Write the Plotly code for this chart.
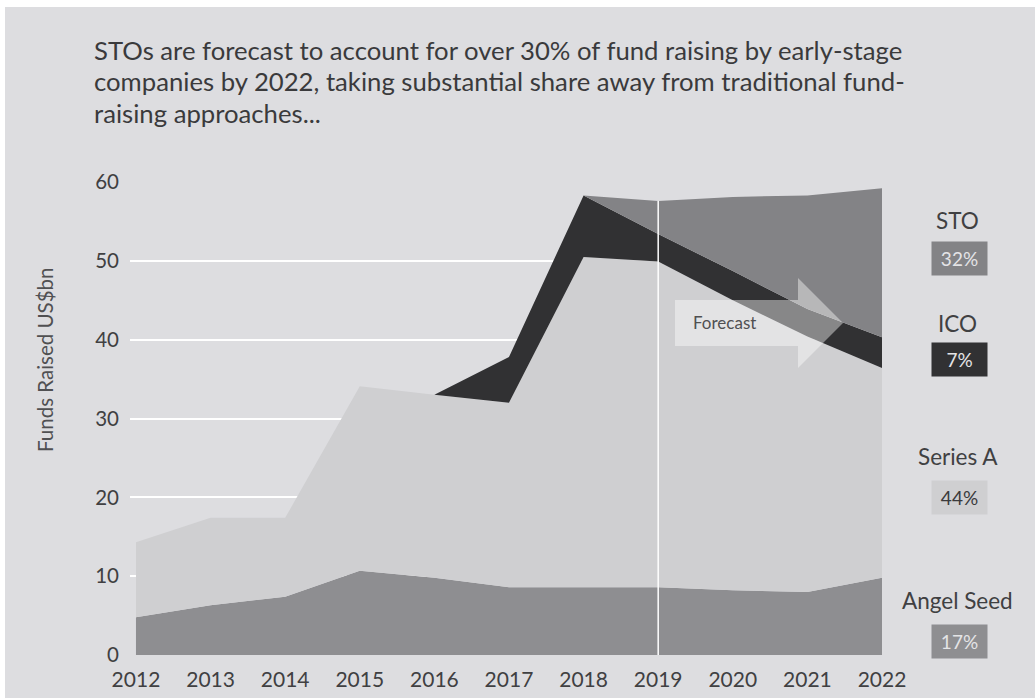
import plotly.graph_objects as go

years = [2012, 2013, 2014, 2015, 2016, 2017, 2018, 2019, 2020, 2021, 2022]
angel_seed = [4.8, 6.3, 7.4, 10.7, 9.8, 8.6, 8.6, 8.6, 8.2, 8.0, 9.8]
series_a = [9.5, 11.1, 10.0, 23.4, 23.2, 23.4, 41.9, 41.3, 36.8, 32.4, 26.6]
ico = [0, 0, 0, 0, 0, 5.8, 7.8, 3.5, 3.7, 3.5, 3.9]
sto = [0, 0, 0, 0, 0, 0, 0, 4.2, 9.4, 14.4, 18.9]

legend_names = ["STO", "ICO", "Series A", "Angel Seed"]
legend_shares = ["32%", "7%", "44%", "17%"]

title_lines = [
    "STOs are forecast to account for over 30% of fund raising by early-stage",
    "companies by 2022, taking substantial share away from traditional fund-",
    "raising approaches...",
]
y_title = "Funds Raised US$bn"
forecast_label = "Forecast"
forecast_year = 2019

C_BG = "#dddde0"
C_ANGEL = "#8e8e91"
C_SERIESA = "#cfcfd1"
C_ICO = "#313133"
C_STO = "#838386"
FONT = "Lato"

fig = go.Figure()
for name, vals, col in [("Angel Seed", angel_seed, C_ANGEL),
                        ("Series A", series_a, C_SERIESA),
                        ("ICO", ico, C_ICO),
                        ("STO", sto, C_STO)]:
    fig.add_trace(go.Scatter(x=years, y=vals, name=name, mode="lines",
                             stackgroup="one", line=dict(width=0, color=col),
                             fillcolor=col, hoverinfo="x+y+name"))

# plot area pixel geometry
L, R, T, B = 130, 153, 182, 43
W_PX = 1035 - L - R
H_PX = 698 - T - B

def px(x):
    return (x - L) / W_PX

def py(y):
    return (698 - B - y) / H_PX

# forecast divider (up to total at forecast year)
idx = years.index(forecast_year)
total_fc = angel_seed[idx] + series_a[idx] + ico[idx] + sto[idx]
fig.add_shape(type="line", x0=forecast_year, x1=forecast_year, y0=0, y1=total_fc,
              xref="x", yref="y", line=dict(color="white", width=1.5), layer="above")

# forecast arrow (decorative)
ax0, ax1, ax2 = px(675), px(798), px(843)
ay_t, ay_b, ah_t, ah_b, a_tip = py(300), py(346), py(278), py(368), py(323)
path = (f"M{ax0},{ay_t} L{ax1},{ay_t} L{ax1},{ah_t} L{ax2},{a_tip} "
        f"L{ax1},{ah_b} L{ax1},{ay_b} L{ax0},{ay_b} Z")
fig.add_shape(type="path", path=path, xref="paper", yref="paper",
              fillcolor="rgba(255,255,255,0.42)", line=dict(width=0), layer="above")
fig.add_annotation(x=px(691), y=py(322), xref="paper", yref="paper",
                   text=forecast_label, showarrow=False, xanchor="left", yanchor="middle",
                   font=dict(family=FONT, size=17, color="#505052"))

# gray card background with white border at top/left
fig.add_shape(type="rect", xref="paper", yref="paper",
              x0=px(5), x1=px(1040), y0=py(705), y1=py(7),
              fillcolor=C_BG, line=dict(width=0), layer="below")

# title
for i, line in enumerate(title_lines):
    fig.add_annotation(x=px(92), y=py(50 + i * 31.5), xref="paper", yref="paper",
                       text=line, showarrow=False, xanchor="left", yanchor="middle",
                       font=dict(family=FONT, size=25.7, color="#3a3a3c"))

# y-axis title
fig.add_annotation(x=px(45), y=py(360), xref="paper", yref="paper", text=y_title,
                   textangle=-90, showarrow=False, xanchor="center", yanchor="middle",
                   font=dict(family=FONT, size=20.5, color="#505052"))

# right-hand labels
label_y = [220, 323, 457, 600]
box_y = [258, 359, 497, 641]
box_bg = [C_STO, C_ICO, C_SERIESA, C_ANGEL]
box_fc = ["#e4e4e6", "#e4e4e6", "#3a3a3c", "#e4e4e6"]
for name, share, ly, by, bg, fc in zip(legend_names, legend_shares, label_y, box_y, box_bg, box_fc):
    fig.add_annotation(x=px(958), y=py(ly), xref="paper", yref="paper", text=name,
                       showarrow=False, xanchor="center", yanchor="middle",
                       font=dict(family=FONT, size=22.5, color="#404042"))
    fig.add_annotation(x=px(959), y=py(by), xref="paper", yref="paper", text=share,
                       showarrow=False, xanchor="center", yanchor="middle",
                       bgcolor=bg, width=55, height=33, borderpad=0,
                       font=dict(family=FONT, size=19, color=fc))

fig.update_layout(
    width=1035, height=698,
    margin=dict(l=L, r=R, t=T, b=B, autoexpand=False),
    paper_bgcolor="white", plot_bgcolor="rgba(0,0,0,0)",
    showlegend=False,
    font=dict(family=FONT, color="#404042"),
    xaxis=dict(range=[2011.92, 2022], tickvals=years, ticktext=[str(y) for y in years],
               showgrid=False, zeroline=False, showline=False, ticks="",
               tickfont=dict(family=FONT, size=21, color="#404042"),
               ticklabelstandoff=10, automargin=False),
    yaxis=dict(range=[0, 60], tickvals=[0, 10, 20, 30, 40, 50, 60],
               showgrid=True, gridcolor="white", gridwidth=1.5,
               zeroline=False, showline=False, ticks="",
               tickfont=dict(family=FONT, size=20.5, color="#404042"),
               ticklabelstandoff=10, automargin=False),
)

fig.write_html("out.html", config={"displayModeBar": False},
               post_script="document.body.style.margin='0';")
